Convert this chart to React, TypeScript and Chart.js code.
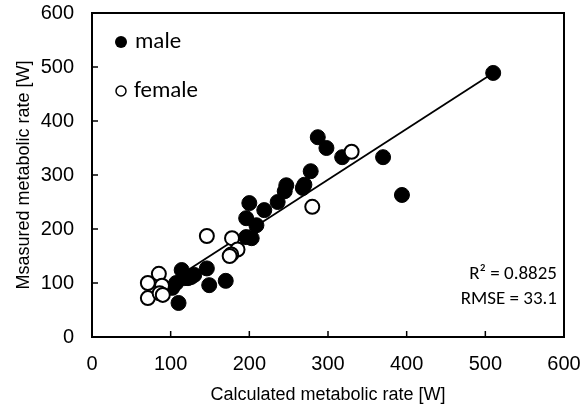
import React, { useEffect, useRef } from "react";
import { Chart, registerables } from "chart.js";
Chart.register(...registerables);

// Data
const maleX = [510, 394, 370, 318, 287, 298, 278, 270, 268, 247, 245, 236, 219, 200, 196, 209, 196, 203, 114, 146, 149, 170, 110, 118, 126, 107, 102, 130, 122];
const maleY = [489, 263, 333, 333, 370, 350, 307, 282, 276, 281, 270, 250, 235, 248, 220, 207, 185, 183, 124, 127, 96, 104, 63, 109, 111, 100, 91, 115, 109];
const femaleX = [330, 280, 146, 178, 185, 177, 175, 85, 71, 89, 71, 86, 90];
const femaleY = [343, 241, 187, 183, 162, 153, 150, 117, 100, 95, 72, 81, 78];
const fitX = [69, 510];
const fitY = [74, 489];
const axisTicks = [0, 100, 200, 300, 400, 500, 600];
const legendLabels = ["male", "female"];
const statLines = ["R\u00B2 = 0.8825", "RMSE = 33.1"];
const xTitle = "Calculated metabolic rate [W]";
const yTitle = "Msasured metabolic rate [W]";

const ARIAL = "'Liberation Sans', Arial, sans-serif";
const CALIBRI = "Carlito, Lato, 'Open Sans', sans-serif";

const decor = {
  id: "decor",
  afterDraw(chart: any) {
    const { ctx, chartArea, scales } = chart;
    const { left, right, top, bottom } = chartArea;
    ctx.save();
    ctx.strokeStyle = "#000";
    ctx.lineWidth = 2;
    ctx.strokeRect(left, top, right - left, bottom - top);
    ctx.lineWidth = 1.5;
    const tl = 6;
    axisTicks.forEach((v) => {
      const px = scales.x.getPixelForValue(v);
      ctx.beginPath();
      ctx.moveTo(px, bottom);
      ctx.lineTo(px, bottom - tl);
      ctx.stroke();
      const py = scales.y.getPixelForValue(v);
      ctx.beginPath();
      ctx.moveTo(left, py);
      ctx.lineTo(left + tl, py);
      ctx.stroke();
    });
    // legend
    ctx.font = `23px ${CALIBRI}`;
    ctx.fillStyle = "#000";
    ctx.textBaseline = "middle";
    ctx.textAlign = "left";
    const lx = 121;
    const ly0 = 42;
    const ly1 = 91;
    ctx.beginPath();
    ctx.arc(lx, ly0, 6, 0, Math.PI * 2);
    ctx.fill();
    ctx.fillText(legendLabels[0], 135, ly0);
    ctx.beginPath();
    ctx.arc(lx, ly1, 5, 0, Math.PI * 2);
    ctx.fillStyle = "#fff";
    ctx.fill();
    ctx.lineWidth = 1.5;
    ctx.stroke();
    ctx.fillStyle = "#000";
    ctx.fillText(legendLabels[1], 134, ly1);
    // stats
    ctx.font = `19px ${CALIBRI}`;
    ctx.textAlign = "right";
    ctx.fillText(statLines[0], right - 7, 274);
    ctx.fillText(statLines[1], right - 7, 299);
    ctx.restore();
  },
};

export default function App() {
  const ref = useRef<HTMLCanvasElement | null>(null);
  useEffect(() => {
    if (!ref.current) return;
    const tickFont = { family: ARIAL, size: 20 };
    const chart = new Chart(ref.current, {
      type: "scatter",
      data: {
        datasets: [
          {
            label: legendLabels[1],
            data: femaleX.map((x, i) => ({ x, y: femaleY[i] })),
            backgroundColor: "#fff",
            borderColor: "#000",
            borderWidth: 2,
            pointRadius: 7,
            pointHoverRadius: 7,
          },
          {
            label: legendLabels[0],
            data: maleX.map((x, i) => ({ x, y: maleY[i] })),
            backgroundColor: "#000",
            borderColor: "#000",
            borderWidth: 1,
            pointRadius: 7.5,
            pointHoverRadius: 7.5,
          },
          {
            type: "line",
            label: "fit",
            data: fitX.map((x, i) => ({ x, y: fitY[i] })),
            borderColor: "#000",
            borderWidth: 1.8,
            pointRadius: 0,
            showLine: true,
            fill: false,
            order: 5,
          } as any,
        ],
      },
      options: {
        animation: false,
        responsive: false,
        maintainAspectRatio: false,
        layout: { padding: { left: 0, right: 24, top: 13, bottom: 0 } },
        plugins: { legend: { display: false }, tooltip: { enabled: false } },
        scales: {
          x: {
            type: "linear",
            min: 0,
            max: 600,
            afterBuildTicks: (s: any) => {
              s.ticks = axisTicks.map((v) => ({ value: v }));
            },
            afterFit: (s: any) => {
              s.height = 75;
              s.paddingLeft = 0;
              s.paddingRight = 0;
            },
            grid: { display: false, drawTicks: false },
            border: { display: false },
            ticks: { font: tickFont, color: "#000", padding: 15, maxRotation: 0 },
            title: {
              display: true,
              text: xTitle,
              font: { family: ARIAL, size: 18 },
              color: "#000",
              padding: { top: 6, bottom: 6 },
            },
          },
          y: {
            type: "linear",
            min: 0,
            max: 600,
            afterBuildTicks: (s: any) => {
              s.ticks = axisTicks.map((v) => ({ value: v }));
            },
            afterFit: (s: any) => {
              s.width = 92;
              s.paddingTop = 0;
              s.paddingBottom = 0;
            },
            grid: { display: false, drawTicks: false },
            border: { display: false },
            ticks: { font: tickFont, color: "#000", padding: 18 },
            title: {
              display: true,
              text: yTitle,
              font: { family: ARIAL, size: 18 },
              color: "#000",
              padding: { top: 13, bottom: 13 },
            },
          },
        },
      },
      plugins: [decor],
    });
    return () => chart.destroy();
  }, []);
  return (
    <div style={{ position: "fixed", left: 0, top: 0, width: 588, height: 412, background: "#fff" }}>
      <canvas ref={ref} width={588} height={412} style={{ width: 588, height: 412, display: "block" }} />
    </div>
  );
}
